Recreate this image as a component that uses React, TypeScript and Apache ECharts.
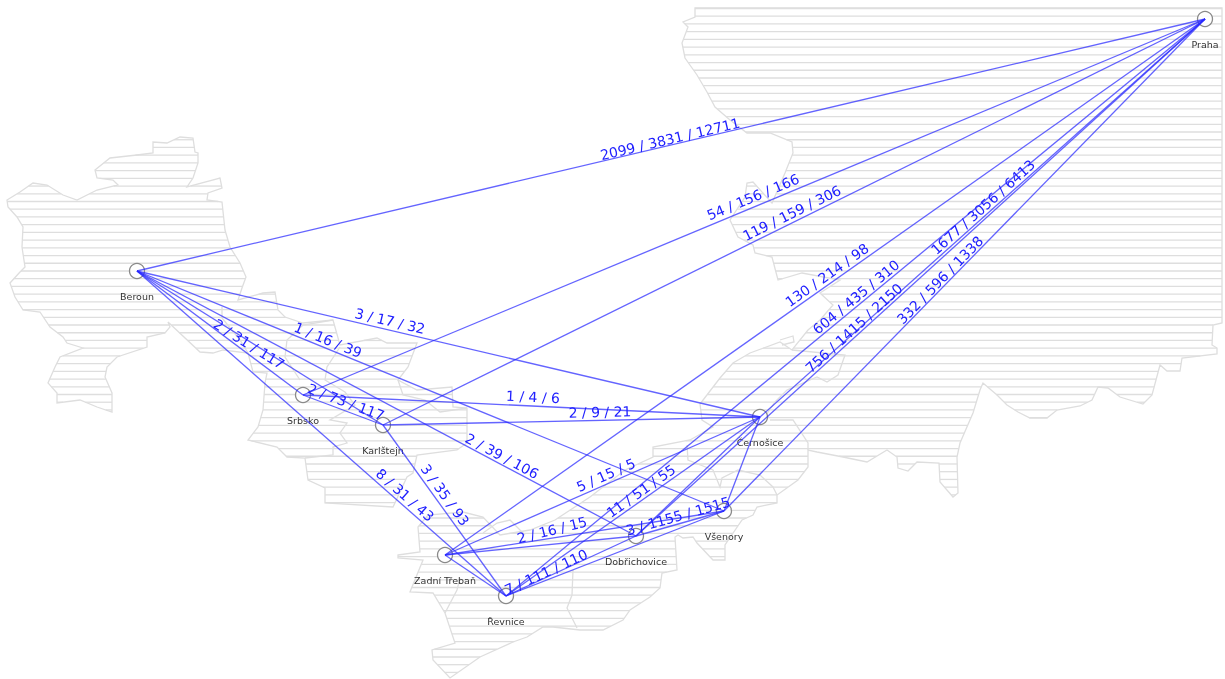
import React, { useEffect, useRef } from "react";
import * as echarts from "echarts";

type P = [number, number];

const nodeNames = ["Praha", "Beroun", "Srbsko", "Karlštejn", "Černošice", "Všenory", "Dobřichovice", "Zadní Třebaň", "Řevnice"];
const nodeX = [1205, 137, 303, 383, 760, 724, 636, 445, 506];
const nodeY = [19, 271, 395, 425, 417, 511, 536, 555, 596];

// from, to
const flowFrom = ["Beroun", "Srbsko", "Karlštejn", "Zadní Třebaň", "Řevnice", "Černošice", "Dobřichovice", "Všenory",
  "Beroun", "Beroun", "Beroun", "Srbsko", "Srbsko", "Karlštejn", "Beroun", "Karlštejn", "Beroun",
  "Zadní Třebaň", "Řevnice", "Zadní Třebaň", "Dobřichovice", "Řevnice",
  "Zadní Třebaň", "Černošice", "Zadní Třebaň", "Dobřichovice", "Řevnice", "Beroun"];
const flowTo = ["Praha", "Praha", "Praha", "Praha", "Praha", "Praha", "Praha", "Praha",
  "Černošice", "Všenory", "Karlštejn", "Karlštejn", "Černošice", "Černošice", "Dobřichovice", "Řevnice", "Řevnice",
  "Černošice", "Černošice", "Dobřichovice", "Všenory", "Dobřichovice",
  "Řevnice", "Všenory", "Všenory", "Černošice", "Všenory", "Srbsko"];

const flowTexts = ["2099 / 3831 / 12711", "54 / 156 / 166", "119 / 159 / 306", "130 / 214 / 98", "604 / 435 / 310", "1677 / 3056 / 6413", "756 / 1415 / 2150", "332 / 596 / 1338",
  "3 / 17 / 32", "1 / 16 / 39", "2 / 31 / 117", "2 / 73 / 117", "1 / 4 / 6", "2 / 9 / 21", "2 / 39 / 106", "3 / 35 / 93", "8 / 31 / 43",
  "5 / 15 / 5", "11 / 51 / 55", "2 / 16 / 15", "3 / 1155 / 1515", "7 / 111 / 110"];
const labelX = [670, 753, 792, 827, 856, 983, 854, 940, 390, 328, 249, 346, 533, 600, 502, 445, 405, 606, 641, 552, 678, 546];
const labelY = [139, 197, 213, 275, 297, 207, 328, 280, 321, 340, 344, 402, 397, 412, 456, 495, 495, 475, 491, 530, 516, 572];
const labelAngleOverride: Record<string, number> = { "2 / 16 / 15": -14 };

const westOutline: P[] = [[7, 200], [20, 192], [33, 183], [47, 185], [63, 195], [77, 200], [97, 190], [118, 185], [113, 180], [97, 178], [95, 170], [110, 158], [137, 155], [153, 153], [153, 142], [167, 143], [180, 137], [193, 138], [195, 152], [198, 153], [198, 163], [193, 178], [187, 187], [220, 178], [222, 188], [208, 193], [207, 200], [222, 202], [225, 230], [230, 247], [240, 263], [246, 277], [242, 288], [238, 300], [263, 293], [275, 292], [278, 310], [285, 317], [303, 323], [333, 320], [340, 345], [377, 338], [387, 343], [417, 343], [408, 367], [398, 380], [417, 390], [452, 387], [453, 407], [467, 408], [467, 443], [457, 450], [417, 455], [413, 473], [407, 477], [393, 507], [325, 503], [325, 488], [308, 480], [305, 458], [287, 457], [277, 447], [248, 440], [258, 427], [263, 410], [265, 383], [267, 373], [253, 372], [248, 353], [223, 350], [213, 353], [200, 352], [168, 322], [170, 327], [165, 333], [147, 337], [147, 347], [117, 357], [107, 367], [105, 377], [112, 393], [112, 412], [97, 407], [80, 400], [57, 403], [57, 393], [48, 383], [55, 367], [60, 357], [83, 348], [67, 343], [63, 337], [50, 327], [40, 312], [23, 310], [15, 297], [10, 283], [20, 272], [25, 267], [22, 247], [23, 227], [17, 217], [8, 207]];

const eastOutline: P[] = [[398, 555], [420, 552], [418, 527], [428, 515], [463, 512], [483, 517], [500, 535], [530, 530], [555, 520], [590, 497], [625, 470], [653, 457], [653, 447], [690, 440], [713, 427], [702, 420], [700, 404], [720, 378], [733, 363], [750, 353], [780, 342], [792, 350], [808, 330], [820, 320], [833, 305], [820, 293], [840, 280], [802, 273], [778, 280], [772, 257], [755, 253], [753, 245], [738, 237], [730, 220], [745, 197], [747, 183], [753, 182], [772, 203], [785, 173], [793, 153], [792, 142], [770, 133], [747, 133], [730, 120], [715, 107], [707, 92], [697, 75], [685, 58], [682, 43], [688, 27], [683, 22], [695, 17], [695, 8], [1222, 8], [1222, 323], [1213, 325], [1212, 345], [1217, 348], [1217, 354], [1182, 358], [1180, 371], [1167, 371], [1160, 365], [1152, 395], [1143, 404], [1120, 397], [1108, 388], [1098, 387], [1092, 400], [1080, 406], [1057, 410], [1047, 418], [1030, 418], [1018, 412], [1007, 405], [997, 395], [983, 383], [980, 390], [973, 413], [960, 443], [957, 457], [958, 493], [953, 497], [940, 482], [939, 463], [917, 462], [908, 471], [898, 468], [897, 457], [887, 450], [867, 462], [843, 457], [817, 452], [808, 450], [808, 467], [798, 480], [777, 495], [777, 503], [757, 507], [753, 515], [742, 520], [725, 545], [725, 560], [713, 560], [697, 543], [693, 537], [683, 538], [678, 535], [675, 537], [677, 570], [662, 573], [660, 588], [650, 597], [630, 610], [623, 620], [603, 630], [580, 630], [553, 627], [543, 627], [527, 637], [513, 642], [480, 657], [450, 678], [433, 660], [432, 650], [455, 643], [445, 613], [433, 593], [410, 592], [423, 560], [398, 558]];

const innerBorders: P[][] = [
  [[222, 307], [222, 318], [240, 340], [248, 353]],
  [[333, 320], [303, 325], [287, 340], [285, 357], [300, 380]],
  [[340, 347], [327, 367], [325, 380], [345, 392], [355, 405], [330, 420], [347, 423], [340, 433], [347, 443], [333, 447], [333, 455], [305, 458]],
  [[398, 380], [403, 395], [425, 400], [440, 412], [467, 408]],
  [[445, 613], [457, 590], [460, 578]],
  [[573, 570], [572, 595], [567, 608], [577, 628]],
  [[483, 533], [497, 523], [510, 520], [525, 535]],
  [[687, 445], [688, 460], [713, 470], [720, 487], [722, 478], [738, 470], [760, 475], [773, 487], [777, 495]],
  [[770, 420], [793, 420], [808, 443], [808, 450]],
  [[792, 350], [845, 355], [838, 375], [827, 382], [817, 377], [787, 390], [775, 402], [766, 415]],
  [[780, 340], [793, 336], [794, 342], [782, 345]],
];

const regions = [westOutline, eastOutline];
const HATCH_START = 8.5;
const HATCH_STEP = 7.72;
const GREY = "#dedede";

const byName = (n: string): P => {
  const i = nodeNames.indexOf(n);
  return [nodeX[i], nodeY[i]];
};

function scan(poly: P[]): [number, number, number][] {
  const out: [number, number, number][] = [];
  for (let y = HATCH_START; y < 679; y += HATCH_STEP) {
    const xs: number[] = [];
    poly.forEach((a, i) => {
      const b = poly[(i + 1) % poly.length];
      if ((a[1] <= y && b[1] > y) || (b[1] <= y && a[1] > y)) {
        xs.push(a[0] + ((y - a[1]) / (b[1] - a[1])) * (b[0] - a[0]));
      }
    });
    xs.sort((p, q) => p - q);
    for (let i = 0; i + 1 < xs.length; i += 2) out.push([xs[i], xs[i + 1], y]);
  }
  return out;
}

export default function App() {
  const ref = useRef<HTMLDivElement>(null);
  useEffect(() => {
    document.body.style.margin = "0";
    document.body.style.overflow = "hidden";
    const chart = echarts.init(ref.current!, undefined, { renderer: "svg" });
    chart.setOption({
      animation: false,
      backgroundColor: "#ffffff",
      grid: { left: 0, right: 0, top: 0, bottom: 0 },
      xAxis: { type: "value", min: 0, max: 1225, show: false },
      yAxis: { type: "value", min: 0, max: 679, inverse: true, show: false },
      series: [
        {
          type: "custom",
          coordinateSystem: "cartesian2d",
          silent: true,
          clip: false,
          z: 1,
          data: regions.map((_, i) => [i, 0]),
          renderItem: (params: any, api: any) => {
            const poly = regions[params.dataIndex];
            const children: any[] = [
              {
                type: "polygon",
                shape: { points: poly.map((p) => api.coord(p)) },
                style: { fill: "none", stroke: GREY, lineWidth: 1.3 },
              },
            ];
            scan(poly).forEach(([a, b, y]) => {
              const s = api.coord([a, y]);
              const e = api.coord([b, y]);
              children.push({
                type: "line",
                shape: { x1: s[0], y1: s[1], x2: e[0], y2: e[1] },
                style: { stroke: GREY, lineWidth: 1.3 },
              });
            });
            if (params.dataIndex === 0) {
              innerBorders.forEach((b) =>
                children.push({
                  type: "polyline",
                  shape: { points: b.map((p) => api.coord(p)) },
                  style: { fill: "none", stroke: GREY, lineWidth: 1.3 },
                })
              );
            }
            return { type: "group", children };
          },
        },
        {
          type: "scatter",
          coordinateSystem: "cartesian2d",
          z: 2,
          symbol: "circle",
          symbolSize: 15,
          itemStyle: { color: "rgba(255,255,255,0.85)", borderColor: "#8a8a8a", borderWidth: 1.3, opacity: 1 },
          label: {
            show: true,
            position: "bottom",
            distance: 12,
            formatter: (p: any) => p.name,
            fontFamily: "DejaVu Sans",
            fontSize: 9.5,
            color: "#333333",
          },
          data: nodeNames.map((name, i) => ({ name, value: [nodeX[i], nodeY[i]] })),
        },
        {
          type: "lines",
          coordinateSystem: "cartesian2d",
          z: 3,
          polyline: false,
          symbol: "none",
          lineStyle: { color: "#2828ff", width: 1.3, opacity: 0.72, curveness: 0 },
          data: flowFrom.map((f, i) => ({ coords: [byName(f), byName(flowTo[i])] })),
        },
        {
          type: "custom",
          coordinateSystem: "cartesian2d",
          silent: true,
          clip: false,
          z: 4,
          data: flowTexts.map((_, i) => [labelX[i], labelY[i]]),
          renderItem: (params: any, api: any) => {
            const i = params.dataIndex;
            const a = byName(flowFrom[i]);
            const b = byName(flowTo[i]);
            const text = flowTexts[i];
            let deg = (Math.atan2(b[1] - a[1], b[0] - a[0]) * 180) / Math.PI;
            if (deg > 90) deg -= 180;
            if (deg < -90) deg += 180;
            if (labelAngleOverride[text] !== undefined) deg = labelAngleOverride[text];
            const c = api.coord([labelX[i], labelY[i]]);
            return {
              type: "text",
              x: c[0],
              y: c[1],
              rotation: (-deg * Math.PI) / 180,
              style: {
                text,
                fill: "#2020ff",
                font: "14px 'DejaVu Sans'",
                align: "center",
                verticalAlign: "middle",
              },
            };
          },
        },
      ],
    });
    return () => chart.dispose();
  }, []);
  return (
    <div
      ref={ref}
      style={{ position: "absolute", left: 0, top: 0, width: 1225, height: 679, filter: "blur(0.6px)" }}
    />
  );
}
